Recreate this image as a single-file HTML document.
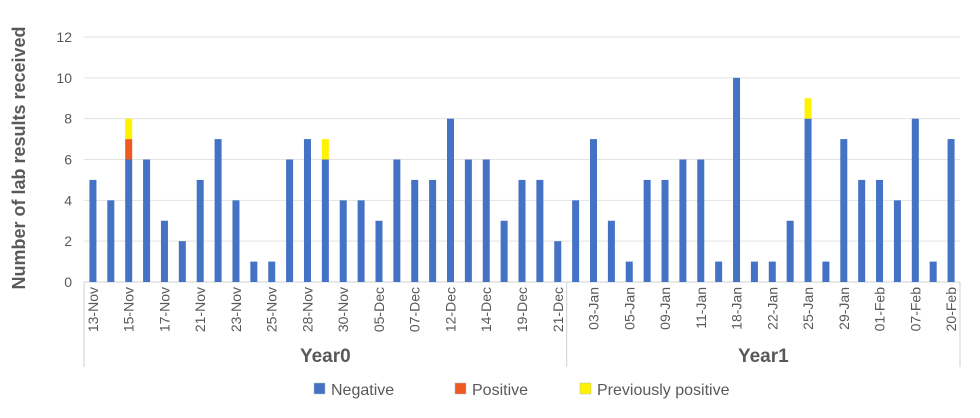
<!DOCTYPE html>
<html><head><meta charset="utf-8"><style>
body{margin:0;background:#fff;}
svg text{font-family:"Liberation Sans",sans-serif;fill:#595959;}
</style></head><body>
<svg id="chart" width="980" height="413" xmlns="http://www.w3.org/2000/svg"></svg>
<script>
const categories=["13-Nov","14-Nov","15-Nov","16-Nov","17-Nov","20-Nov","21-Nov","22-Nov","23-Nov","24-Nov","25-Nov","27-Nov","28-Nov","29-Nov","30-Nov","04-Dec","05-Dec","06-Dec","07-Dec","11-Dec","12-Dec","13-Dec","14-Dec","18-Dec","19-Dec","20-Dec","21-Dec",
"02-Jan","03-Jan","04-Jan","05-Jan","08-Jan","09-Jan","10-Jan","11-Jan","17-Jan","18-Jan","19-Jan","22-Jan","24-Jan","25-Jan","26-Jan","29-Jan","31-Jan","01-Feb","06-Feb","07-Feb","19-Feb","20-Feb"];
const negative=[5,4,6,6,3,2,5,7,4,1,1,6,7,6,4,4,3,6,5,5,8,6,6,3,5,5,2,
4,7,3,1,5,5,6,6,1,10,1,1,3,8,1,7,5,5,4,8,1,7];
const positive=[0,0,1,0,0,0,0,0,0,0,0,0,0,0,0,0,0,0,0,0,0,0,0,0,0,0,0,
0,0,0,0,0,0,0,0,0,0,0,0,0,0,0,0,0,0,0,0,0,0];
const prevPositive=[0,0,1,0,0,0,0,0,0,0,0,0,0,1,0,0,0,0,0,0,0,0,0,0,0,0,0,
0,0,0,0,0,0,0,0,0,0,0,0,0,1,0,0,0,0,0,0,0,0];
const groups=["Year0","Year1"];
const groupSizes=[27,22];
const yTicks=[0,2,4,6,8,10,12];

const svg=document.getElementById('chart');
const NS="http://www.w3.org/2000/svg";
const X0=84,X1=960,Y0=282,Y12=37;
const band=(X1-X0)/categories.length;
const xC=i=>X0+band*(i+0.5);
const y=v=>Y0-(Y0-Y12)*v/12;
function mk(t,a,p){const e=document.createElementNS(NS,t);for(const k in a)e.setAttribute(k,a[k]);(p||svg).appendChild(e);return e;}

yTicks.forEach(v=>{
  const g=mk('line',{x1:X0,x2:X1,y1:y(v),y2:y(v),stroke:v===0?'#d0d0d0':'#e3e3e3','stroke-width':1});
  
  
  const t=mk('text',{x:72,y:y(v)+5,'text-anchor':'end','font-size':14});
  t.textContent=v;
  
  
});
const yt=mk('text',{x:0,y:0,transform:'translate(25,158) rotate(-90)','text-anchor':'middle','font-size':18,'font-weight':'bold'});
yt.textContent='Number of  lab results received';



const bw=7;
categories.forEach((c,i)=>{
  const segs=[[negative[i],'#4472C4','negative'],[positive[i],'#ED5A24','positive'],[prevPositive[i],'#FFF200','previously-positive']];
  let base=0;
  segs.forEach(s=>{
    if(s[0]>0){
      const r=mk('rect',{x:xC(i)-bw/2,y:y(base+s[0]),width:bw,height:y(base)-y(base+s[0]),fill:s[1]});
      
      
      base+=s[0];
    }
  });
  if(i%2===0){
    const t=mk('text',{x:0,y:0,transform:`translate(${xC(i)+5},287) rotate(-90)`,'text-anchor':'end','font-size':14});
    t.textContent=c;
    
    
  }
});

let start=0;
const bounds=[X0];
groups.forEach((g,gi)=>{
  const end=start+groupSizes[gi];
  const xe=X0+band*end;
  bounds.push(xe);
  const t=mk('text',{x:(X0+band*start+xe)/2,y:362,'text-anchor':'middle','font-size':19,'font-weight':'bold'});
  t.textContent=g;
  
  
  start=end;
});
bounds.forEach((b,i)=>{
  const l=mk('line',{x1:b,x2:b,y1:Y0,y2:367,stroke:'#d0d0d0','stroke-width':1});
  
  
});

const legend=[['Negative','#4472C4',314],['Positive','#ED5A24',455],['Previously positive','#FFF200',580]];
legend.forEach(l=>{
  const r=mk('rect',{x:l[2],y:383,width:11,height:11,fill:l[1],stroke:'#bbb','stroke-width':0.5});
  
  
  const t=mk('text',{x:l[2]+17,y:395,'font-size':16});
  t.textContent=l[0];
  
  
});
</script>
</body></html>
